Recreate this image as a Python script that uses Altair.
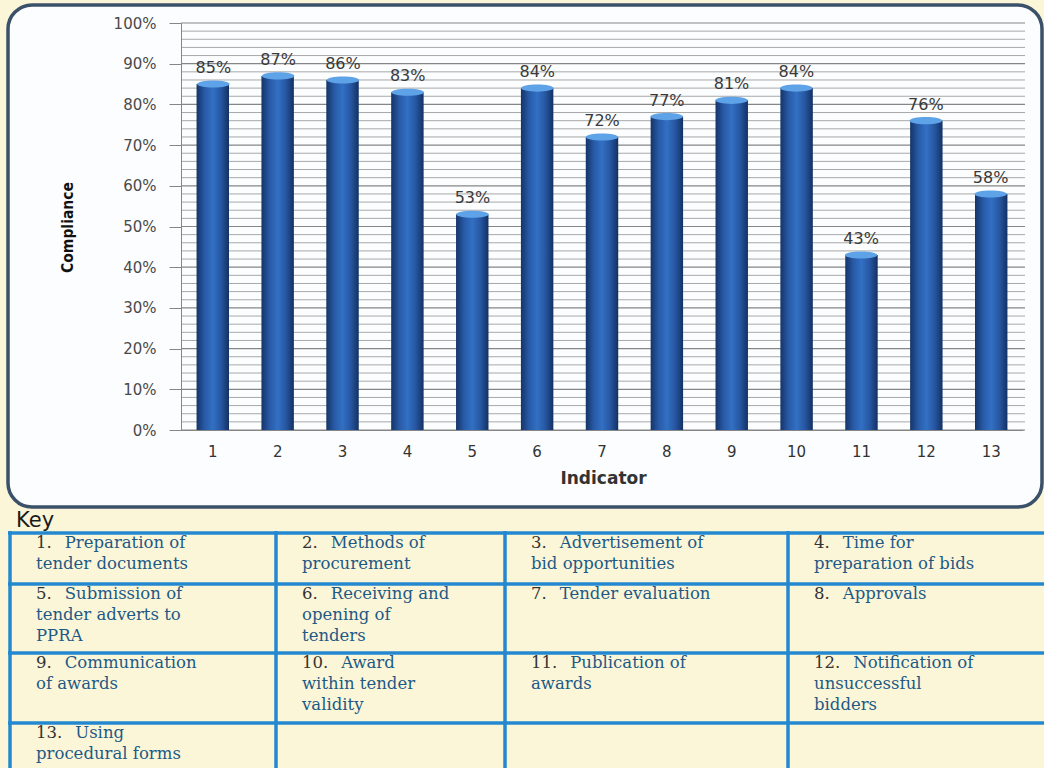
import altair as alt
import pandas as pd

# ---- data -------------------------------------------------------------
indicators = [str(i) for i in range(1, 14)]
compliance = [85, 87, 86, 83, 53, 84, 72, 77, 81, 84, 43, 76, 58]

key_numbers = [f"{i}." for i in range(1, 14)]
key_lines = [
    ["Preparation of", "tender documents"],
    ["Methods of", "procurement"],
    ["Advertisement of", "bid opportunities"],
    ["Time for", "preparation of bids"],
    ["Submission of", "tender adverts to", "PPRA"],
    ["Receiving and", "opening of", "tenders"],
    ["Tender evaluation"],
    ["Approvals"],
    ["Communication", "of awards"],
    ["Award", "within tender", "validity"],
    ["Publication of", "awards"],
    ["Notification of", "unsuccessful", "bidders"],
    ["Using", "procedural forms"],
]

y_ticks = list(range(0, 101, 10))
y_minor = [v for v in range(2, 100, 2) if v % 10]

# ---- layout (pixels) --------------------------------------------------
LEFT, TOP = 181, 23          # plot origin inside the 1044x768 canvas
W, H = 842, 407
GRID_END = 1025

col_edges = [10, 276, 505, 788, 1060]
row_edges = [533, 584, 653, 723, 790]
KEY_FS = 16.5
CELL_PAD = 26
LINE_GAP = 21

BG = "#FCF6D8"
BLUE_LINE = "#2388CF"
TEXT_BLUE = "#1D5A86"
GRID_MAJOR = "#868686"
GRID_MINOR = "#A8A8A8"


def rx(v):
    return v - LEFT


def ry(v):
    return v - TOP


bars_df = pd.DataFrame({"Indicator": indicators, "Compliance": compliance})
bars_df["label"] = [f"{v}%" for v in compliance]


def x_scale():
    return alt.Scale(domain=indicators, paddingInner=0.5, paddingOuter=0.24)


def y_scale():
    return alt.Scale(domain=[0, 100], nice=False)


x_enc = alt.X(
    "Indicator:N",
    sort=indicators,
    scale=x_scale(),
    axis=alt.Axis(
        title="Indicator",
        labelAngle=0,
        ticks=False,
        domainColor=GRID_MAJOR,
        labelFont="DejaVu Sans",
        labelFontSize=15,
        labelColor="#333333",
        labelPadding=14,
        titleFont="DejaVu Sans",
        titleFontSize=17,
        titleFontWeight="bold",
        titleColor="#333333",
        titleX=rx(603),
        titleY=48,
        titleBaseline="middle",
        titleAlign="center",
        zindex=1,
    ),
)
y_enc = alt.Y(
    "Compliance:Q",
    scale=y_scale(),
    axis=alt.Axis(
        title="Compliance",
        values=y_ticks,
        labelExpr="datum.value + '%'",
        grid=False,
        tickSize=12,
        tickColor=GRID_MAJOR,
        domainColor=GRID_MAJOR,
        labelFont="DejaVu Sans",
        labelFontSize=15,
        labelColor="#4A4A4A",
        labelPadding=13,
        titleFont="'Liberation Sans Narrow', 'DejaVu Sans Condensed', sans-serif",
        titleFontSize=15.5,
        titleFontWeight="bold",
        titleColor="#111111",
        titleAngle=270,
        titleX=rx(67),
        titleY=ry(227),
        titleAlign="center",
        titleBaseline="middle",
        zindex=1,
    ),
)

bar_gradient = alt.Gradient(
    gradient="linear",
    x1=0, x2=1, y1=0, y2=0,
    stops=[
        alt.GradientStop(offset=0.0, color="#143468"),
        alt.GradientStop(offset=0.25, color="#285AA6"),
        alt.GradientStop(offset=0.5, color="#3270C4"),
        alt.GradientStop(offset=0.75, color="#2757A2"),
        alt.GradientStop(offset=1.0, color="#133163"),
    ],
)

# ---- rounded white frame behind the plot -------------------------------
frame = (
    alt.Chart(pd.DataFrame({"a": [0]}))
    .mark_rect(fill="#FCFDFE", stroke="#3B5169", strokeWidth=3.5, cornerRadius=24)
    .encode(
        x=alt.value(rx(8)), x2=alt.value(rx(1042)),
        y=alt.value(ry(5)), y2=alt.value(ry(507)),
    )
)

minor_grid = (
    alt.Chart(pd.DataFrame({"v": y_minor}))
    .mark_rule(color=GRID_MINOR, strokeWidth=1)
    .encode(y=alt.Y("v:Q", scale=y_scale(), axis=None), x=alt.value(0), x2=alt.value(GRID_END - LEFT))
)
major_grid = (
    alt.Chart(pd.DataFrame({"v": y_ticks}))
    .mark_rule(color=GRID_MAJOR, strokeWidth=1.2)
    .encode(y=alt.Y("v:Q", scale=y_scale(), axis=None), x=alt.value(0), x2=alt.value(GRID_END - LEFT))
)

bars = alt.Chart(bars_df).mark_bar(color=bar_gradient).encode(x=x_enc, y=y_enc)

caps = (
    alt.Chart(bars_df)
    .mark_point(
        shape="M -1 0 A 1 0.22 0 1 0 1 0 A 1 0.22 0 1 0 -1 0 Z",
        filled=True,
        color="#5EA2E8",
        opacity=1,
        size=1050,
        strokeWidth=0,
    )
    .encode(
        x=alt.X("Indicator:N", sort=indicators, scale=x_scale(), axis=None),
        y=alt.Y("Compliance:Q", scale=y_scale(), axis=None),
    )
)

labels = (
    alt.Chart(bars_df)
    .mark_text(font="DejaVu Sans", fontSize=16, color="#3A3A3A", baseline="bottom", dy=-8)
    .encode(
        x=alt.X("Indicator:N", sort=indicators, scale=x_scale(), axis=None),
        y=alt.Y("Compliance:Q", scale=y_scale(), axis=None),
        text="label:N",
    )
)

# ---- key table ----------------------------------------------------------
key_title = (
    alt.Chart(pd.DataFrame({"t": ["Key"]}))
    .mark_text(font="DejaVu Sans", fontSize=21, color="#1A1A1A", align="left", baseline="middle")
    .encode(x=alt.value(rx(16)), y=alt.value(ry(521)), text="t:N")
)

line_rows = []
for yy in row_edges[:-1]:
    line_rows.append({"x": rx(8), "x2": rx(1060), "y": ry(yy), "y2": ry(yy)})
for xx in col_edges[:-1]:
    line_rows.append({"x": rx(xx), "x2": rx(xx), "y": ry(row_edges[0] - 2), "y2": ry(row_edges[-1])})
table_lines = (
    alt.Chart(pd.DataFrame(line_rows))
    .mark_rule(color=BLUE_LINE, strokeWidth=3.5)
    .encode(
        x=alt.X("x:Q", scale=None, axis=None),
        x2="x2:Q",
        y=alt.Y("y:Q", scale=None, axis=None),
        y2="y2:Q",
    )
)

num_rows, body_rows = [], []
for i, (num, lines) in enumerate(zip(key_numbers, key_lines)):
    r, c = divmod(i, 4)
    left = col_edges[c] + CELL_PAD
    top = row_edges[r] + 9.5
    num_w = (len(num) - 1) * 0.636 * KEY_FS + 0.318 * KEY_FS + 13
    num_rows.append({"x": rx(left), "y": ry(top), "t": num})
    for j, line in enumerate(lines):
        xx = left + (num_w if j == 0 else 0)
        body_rows.append({"x": rx(xx), "y": ry(top + j * LINE_GAP), "t": line})

key_nums = (
    alt.Chart(pd.DataFrame(num_rows))
    .mark_text(font="DejaVu Serif", fontSize=KEY_FS, color="#333333", align="left", baseline="middle")
    .encode(
        x=alt.X("x:Q", scale=None, axis=None),
        y=alt.Y("y:Q", scale=None, axis=None),
        text="t:N",
    )
)
key_body = (
    alt.Chart(pd.DataFrame(body_rows))
    .mark_text(font="DejaVu Serif", fontSize=KEY_FS, color=TEXT_BLUE, align="left", baseline="middle")
    .encode(
        x=alt.X("x:Q", scale=None, axis=None),
        y=alt.Y("y:Q", scale=None, axis=None),
        text="t:N",
    )
)

chart = (
    alt.layer(frame, minor_grid, major_grid, bars, caps, labels,
              key_title, table_lines, key_nums, key_body)
    .resolve_scale(x="independent", y="independent")
    .properties(
        width=W,
        height=H,
        autosize=alt.AutoSizeParams(type="none"),
        padding={"left": LEFT, "top": TOP, "right": 1044 - LEFT - W, "bottom": 768 - TOP - H},
        background=BG,
    )
    .configure_view(stroke=None)
)

chart.save("out.html", embed_options={"renderer": "svg", "actions": False})
